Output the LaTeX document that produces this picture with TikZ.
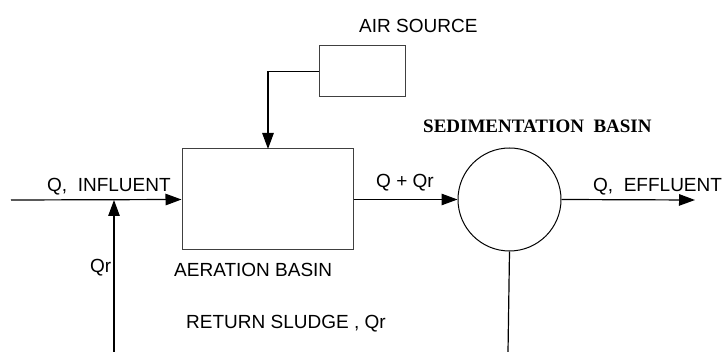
\documentclass[tikz,border=0pt]{standalone}
\usepackage{fontspec}
\setmainfont{Liberation Sans}
\newfontfamily\timesfont{Liberation Serif}
\usetikzlibrary{arrows.meta,positioning}
\newcommand{\lblsize}{\fontsize{19}{22}\selectfont}

\begin{document}
\begin{tikzpicture}[x=1pt,y=1pt,>={Triangle[length=16pt,width=11.5pt]},
  blk/.style={draw=black!75,line width=1pt,inner sep=0pt},
  lbl/.style={font=\lblsize,inner sep=0pt,anchor=base west},
  flow/.style={line width=1.2pt}]
\useasboundingbox (0,0) rectangle (725,-352);
\node (aer) [blk,minimum width=171pt,minimum height=101pt] at (267.5,-199.5) {};
\node (air) [blk,minimum width=86pt,minimum height=51pt] at (362,-71.5) {};
\node (sed) [blk,draw=black,circle,minimum size=103pt,right=104pt of aer] {};
\coordinate (in)    at (11,-200);
\coordinate (out)   at (695,-200);
\coordinate (ret)   at (114,-352);
\coordinate (join)  at (114,-200);
\coordinate (airin) at (268,-149);
\coordinate (drain) at (508,-352);
% labels
\node (airlbl) [lbl] at (359,-33)  {AIR SOURCE};
\node (sedlbl) [lbl,font=\lblsize\timesfont\bfseries] at (423,-133) {SEDIMENTATION\ \ BASIN};
\node (inlbl)  [lbl] at (47,-192)  {Q,\ \ INFLUENT};
\node (qqr)    [lbl] at (376,-188) {Q + Qr};
\node (outlbl) [lbl] at (593,-192) {Q,\ \ EFFLUENT};
\node (qr)     [lbl] at (90,-273)  {Qr};
\node (aerlbl) [lbl] at (174,-277) {AERATION BASIN};
\node (retlbl) [lbl] at (186,-329) {RETURN SLUDGE , Qr};
% flows
\draw[flow,->] (in) -- (aer.west);
\draw[flow,->] (ret) -- (join);
\draw[flow,->] (air.west) -| (airin);
\draw[flow,->] (aer.east) -- (sed.west);
\draw[flow,->] (sed.east) -- (out);
\draw[flow] (sed.south) -- (drain);
\end{tikzpicture}
\end{document}
